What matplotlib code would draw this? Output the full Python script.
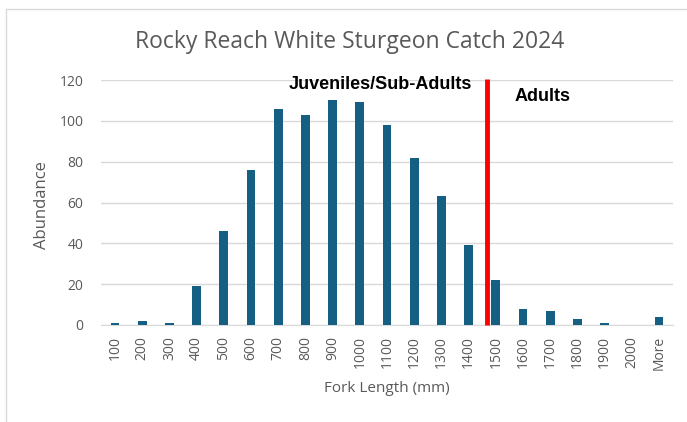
import matplotlib
matplotlib.use('Agg')
from matplotlib import pyplot as plt
from matplotlib.patches import Rectangle
import numpy as np

# histogram bins (fork length, mm) and counts
bins = ['100', '200', '300', '400', '500', '600', '700', '800', '900', '1000',
        '1100', '1200', '1300', '1400', '1500', '1600', '1700', '1800', '1900',
        '2000', 'More']
counts = [1, 2, 1, 19, 46, 76, 106, 103, 110, 109, 98, 82, 63, 39, 22, 8, 7,
          3, 1, 0, 4]
y_ticks = [0, 20, 40, 60, 80, 100, 120]

plt.rcParams['font.family'] = ['Open Sans', 'DejaVu Sans']
grey = '#595959'

fig = plt.figure(figsize=(6.87, 4.22), dpi=100)
fig.patches.append(Rectangle((6 / 687, -0.1), 1.2, (422 - 9) / 422 + 0.1,
                             transform=fig.transFigure, fill=False,
                             edgecolor='#d9d9d9', linewidth=1))
ax = fig.add_axes([101.4 / 687, 97 / 422, 571.2 / 687, 245 / 422])

x = np.arange(len(bins))
ax.bar(x, counts, width=0.33, color='#156082', zorder=3)

ax.set_xlim(-0.5, len(bins) - 0.5)
ax.set_ylim(0, 120)
ax.set_yticks(y_ticks)
ax.set_yticklabels([str(v) for v in y_ticks], fontsize=10, color=grey)
ax.set_xticks(x)
ax.set_xticklabels(bins, rotation=90, fontsize=10, color=grey)
ax.yaxis.set_tick_params(length=0, pad=13)
ax.xaxis.set_tick_params(length=0, pad=8)
ax.grid(axis='y', color='#d9d9d9', linewidth=1, zorder=0)
for s in ['top', 'right', 'left']:
    ax.spines[s].set_visible(False)
ax.spines['bottom'].set_color('#d9d9d9')

# adult / juvenile split
cut = 13.68
ax.plot([cut, cut], [0, 120.5], color='#ff0000', linewidth=3.5, zorder=4,
        clip_on=False, solid_capstyle='butt')
ax.text(cut - 0.55, 118, 'Juveniles/Sub-Adults', ha='right', va='center',
        fontsize=13, fontweight='bold', color='black', family=['Liberation Sans'])
ax.text(cut + 1.0, 112, 'Adults', ha='left', va='center',
        fontsize=13, fontweight='bold', color='black', family=['Liberation Sans'])

fig.text(350 / 687, 1 - 42 / 422, 'Rocky Reach White Sturgeon Catch 2024',
         ha='center', va='center', fontsize=16.5, color=grey)
fig.text(42 / 687, 1 - 205 / 422, 'Abundance', rotation=90, ha='center',
         va='center', fontsize=12, color=grey)
fig.text(387 / 687, 1 - 388 / 422, 'Fork Length (mm)', ha='center',
         va='center', fontsize=11, color=grey)

fig.savefig('out.png', dpi=100)
